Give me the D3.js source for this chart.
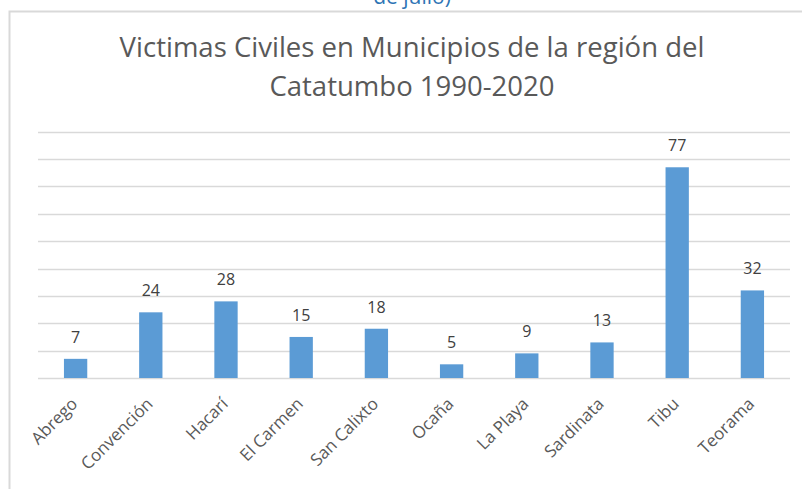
<!DOCTYPE html>
<html>
<head>
<meta charset="utf-8">
<script src="https://cdn.jsdelivr.net/npm/d3@7"></script>
<style>
  body { margin: 0; background: #fff; }
  svg { display: block; font-family: "Open Sans", sans-serif; }
</style>
</head>
<body>
<svg id="chart"></svg>
<script>
const municipios = ["Abrego", "Convención", "Hacarí", "El Carmen", "San Calixto",
    "Ocaña", "La Playa", "Sardinata", "Tibu", "Teorama"];
const victimas = [7, 24, 28, 15, 18, 5, 9, 13, 77, 32];
const gridTicks = [0, 10, 20, 30, 40, 50, 60, 70, 80, 90];
const titleLines = ["Victimas Civiles en Municipios de la región del", "Catatumbo 1990-2020"];

const width = 802;
const height = 489;
const margin = { top: 131.7, right: 12, bottom: 111, left: 38 };

const svg = d3.select("#chart")
    .attr("width", width)
    .attr("height", height);

// texto cortado arriba (parte del documento)
svg.append("text")
    .attr("x", 412)
    .attr("y", 4)
    .attr("text-anchor", "middle")
    .attr("fill", "#2e74b5")
    .style("font-size", "21px")
    .text("de julio)");

// borde del área del gráfico
svg.append("path")
    .attr("d", `M9.5,${height} V11.5 H${width}`)
    .attr("fill", "none")
    .attr("stroke", "#d9d9d9")
    .attr("stroke-width", 2);

// título
const title = svg.append("text")
    .attr("text-anchor", "middle")
    .attr("fill", "#595959")
    .style("font-size", "24px");

title.selectAll("tspan")
    .data(titleLines)
    .enter().append("tspan")
    .attr("x", 412)
    .attr("y", (d, i) => 57 + i * 39)
    .text(d => d);

// ajustar tamaño para que la primera línea mida ~585px
const w0 = title.select("tspan").node().getComputedTextLength();
title.style("font-size", (24 * 585 / w0) + "px");

const x = d3.scaleBand()
    .domain(municipios)
    .range([margin.left, width - margin.right])
    .paddingInner(0.69)
    .paddingOuter(0.345);

const y = d3.scaleLinear()
    .domain([0, 90])
    .range([height - margin.bottom, margin.top]);

// líneas de cuadrícula
svg.append("g")
    .selectAll("line")
    .data(gridTicks)
    .enter().append("line")
    .attr("x1", margin.left)
    .attr("x2", width - margin.right)
    .attr("y1", d => Math.round(y(d)) + 0.5)
    .attr("y2", d => Math.round(y(d)) + 0.5)
    .attr("stroke", "#d9d9d9")
    .attr("stroke-width", 1.5);

const data = municipios.map((m, i) => ({ name: m, value: victimas[i] }));

svg.append("g")
    .selectAll("rect")
    .data(data)
    .enter().append("rect")
    .attr("x", d => x(d.name))
    .attr("width", x.bandwidth())
    .attr("y", d => y(d.value))
    .attr("height", d => y(0) - y(d.value))
    .attr("fill", "#5b9bd5");

// etiquetas de valores
svg.append("g")
    .selectAll("text")
    .data(data)
    .enter().append("text")
    .attr("x", d => x(d.name) + x.bandwidth() / 2)
    .attr("y", d => y(d.value) - 16)
    .attr("text-anchor", "middle")
    .attr("fill", "#404040")
    .style("font-size", "16px")
    .text(d => d.value);

// etiquetas del eje x rotadas
svg.append("g")
    .selectAll("text")
    .data(municipios)
    .enter().append("text")
    .attr("transform", d => `translate(${x(d) + x.bandwidth() / 2 + 3},${y(0) + 27}) rotate(-45)`)
    .attr("text-anchor", "end")
    .attr("fill", "#595959")
    .style("font-size", "17px")
    .text(d => d);
</script>
</body>
</html>
